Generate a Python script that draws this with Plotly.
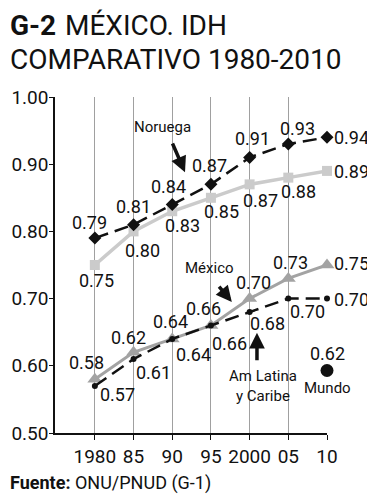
import plotly.graph_objects as go

years = ["1980", "85", "90", "95", "2000", "05", "10"]
noruega = [0.79, 0.81, 0.84, 0.87, 0.91, 0.93, 0.94]
ocde = [0.75, 0.80, 0.83, 0.85, 0.87, 0.88, 0.89]
mexico = [0.58, 0.62, 0.64, 0.66, 0.70, 0.73, 0.75]
amlat = [0.57, 0.61, 0.64, 0.66, 0.68, 0.70, 0.70]
mundo_label = "0.62"
mundo_y = 0.593
yticks = [0.50, 0.60, 0.70, 0.80, 0.90, 1.00]

FONT = "Roboto, Liberation Sans, sans-serif"
x = list(range(len(years)))

fig = go.Figure()
fig.add_trace(go.Scatter(x=x, y=ocde, mode="lines+markers",
                         line=dict(color="#cbcbcb", width=3.5),
                         marker=dict(symbol="square", size=10, color="#cbcbcb"),
                         cliponaxis=False))
fig.add_trace(go.Scatter(x=x, y=mexico, mode="lines+markers",
                         line=dict(color="#a3a3a3", width=3),
                         marker=dict(symbol="triangle-up", size=13, color="#a3a3a3"),
                         cliponaxis=False))
fig.add_trace(go.Scatter(x=x, y=amlat, mode="lines+markers",
                         line=dict(color="#111111", width=2.5, dash="14px,7px"),
                         marker=dict(symbol="circle", size=6, color="#111111"),
                         cliponaxis=False))
fig.add_trace(go.Scatter(x=x, y=noruega, mode="lines+markers",
                         line=dict(color="#111111", width=2.5, dash="14px,7px"),
                         marker=dict(symbol="diamond", size=10, color="#111111"),
                         cliponaxis=False))
fig.add_trace(go.Scatter(x=[6], y=[mundo_y], mode="markers",
                         marker=dict(symbol="circle", size=13, color="#111111"),
                         cliponaxis=False))

nor_off = [(-5, 16), (0, 18), (-4, 18), (-1, 19), (3, 19), (9, 16), (24, 0)]
ocde_off = [(2, -15), (9, -19), (10, -14), (11, -14), (11, -16), (10, -14), (24, -1)]
mex_off = [(-8, 17), (-5, 15), (-2, 17), (-7, 17), (4, 16), (2, 16), (24, 2)]
lat_off = [(23, -9), (20, -13), (21, -16), (19, -18), (18, -11), (19, -13), (24, -1)]

ann = []
for vals, offs in [(noruega, nor_off), (ocde, ocde_off), (mexico, mex_off), (amlat, lat_off)]:
    for i, v in enumerate(vals):
        ann.append(dict(x=i, y=v, text=f"{v:.2f}", showarrow=False,
                        xshift=offs[i][0], yshift=offs[i][1],
                        font=dict(family=FONT, size=18, color="#111")))

lab = dict(family=FONT, size=15, color="#111")
ann += [
    dict(x=1.76, y=0.955, text="Noruega", showarrow=False, font=lab),
    dict(x=6.03, y=0.806, text="Ecs. desarr<br>OCDE", showarrow=False, font=lab),
    dict(x=2.97, y=0.746, text="México", showarrow=False, font=lab),
    dict(x=4.34, y=0.570, text="Am Latina<br>y Caribe", showarrow=False, font=lab),
    dict(x=6.0, y=0.619, text=mundo_label, showarrow=False,
         font=dict(family=FONT, size=18, color="#111")),
    dict(x=6.0, y=0.567, text="Mundo", showarrow=False, font=lab),
]
arrow = dict(showarrow=True, arrowhead=2, arrowsize=0.9, arrowwidth=3.5,
             arrowcolor="#111", axref="x", ayref="y", text="", standoff=0)
ann += [
    dict(x=2.33, y=0.888, ax=1.99, ay=0.933, **arrow),
    dict(x=6.52, y=0.870, ax=6.52, ay=0.838, **arrow),
    dict(x=3.54, y=0.695, ax=3.18, ay=0.720, **arrow),
    dict(x=4.19, y=0.649, ax=4.19, ay=0.606, **arrow),
]

# page body adds an 8px offset; reference pixel coords are converted accordingly
PW, PH = 272, 336
def px(xp):
    return (xp - 55) / PW
def py(yp):
    return (433 - yp) / PH

ann += [
    dict(xref="paper", yref="paper", x=px(8), y=py(25), xanchor="left", yanchor="middle",
         showarrow=False, text="<b>G-2</b>", font=dict(family=FONT, size=28, color="#111")),
    dict(xref="paper", yref="paper", x=px(63), y=py(25), xanchor="left", yanchor="middle",
         showarrow=False, text="MÉXICO. IDH", font=dict(family=FONT, size=28, color="#111")),
    dict(xref="paper", yref="paper", x=px(8), y=py(60), xanchor="left", yanchor="middle",
         showarrow=False, text="COMPARATIVO 1980-2010",
         font=dict(family=FONT, size=28, color="#111")),
    dict(xref="paper", yref="paper", x=px(8), y=py(483), xanchor="left", yanchor="middle",
         showarrow=False, text="<b>Fuente:</b> ONU/PNUD (G-1)",
         font=dict(family=FONT, size=18, color="#111")),
]

fig.update_layout(
    width=375, height=500,
    margin=dict(l=47, r=56, t=89, b=75),
    paper_bgcolor="white", plot_bgcolor="white",
    showlegend=False,
    annotations=ann,
    font=dict(family=FONT, color="#111"),
)

fig.update_xaxes(range=[-1.03, 6], tickvals=x, ticktext=years, tickangle=0,
                 showgrid=True, gridcolor="#a0a0a0", gridwidth=1,
                 showline=True, linecolor="#111", linewidth=1.5,
                 ticks="outside", ticklen=5, tickcolor="#111",
                 tickfont=dict(family=FONT, size=19, color="#111"),
                 zeroline=False, automargin=False)
fig.update_yaxes(range=[0.5, 1.0], tickvals=yticks,
                 ticktext=[f"{t:.2f}" for t in yticks],
                 showgrid=False, showline=True, linecolor="#111", linewidth=1.5,
                 ticks="outside", ticklen=4, tickcolor="#111",
                 ticklabelstandoff=-3,
                 tickfont=dict(family=FONT, size=19, color="#111"),
                 zeroline=False, automargin=False)

fig.write_html("out.html")
